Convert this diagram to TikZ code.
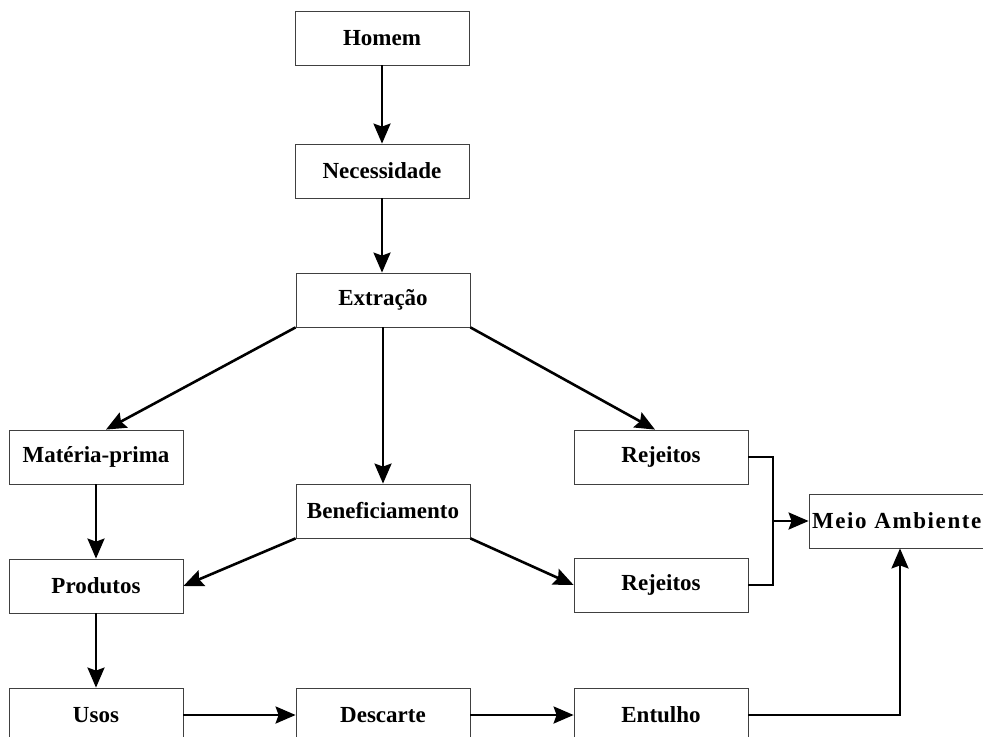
\documentclass[tikz,border=0pt]{standalone}
\usepackage{fontspec}
\setmainfont{Liberation Serif}
\usetikzlibrary{positioning,arrows.meta}

\begin{document}
\begin{tikzpicture}[x=0.5pt,y=-0.5pt,
	bstyle/.style={rectangle, draw=black!75, thin, fill=white,
	minimum width=87pt, minimum height=27pt, inner sep=0pt,
	font=\fontsize{11.5}{13}\selectfont\bfseries},
	astyle/.style={-{Stealth[length=10pt,width=8.5pt,inset=1.5pt]}, line width=1.3pt},
	lstyle/.style={line width=1.3pt}
	]
	\useasboundingbox (0,0) rectangle (983,737);
	\node[bstyle] (1) at (382,38) {Homem};
	\node[bstyle] (2) at (382,171) {Necessidade};
	\node[bstyle] (3) at (383,300) {Extração};
	\node[bstyle] (4) at (96,457) {Matéria-prima};
	\node[bstyle] (5) at (383,511) {Beneficiamento};
	\node[bstyle] (6) at (661,457) {Rejeitos};
	\node[bstyle] (7) at (96,586) {Produtos};
	\node[bstyle] (8) at (661,585) {Rejeitos};
	\node[bstyle, text width=84pt, align=left, inner xsep=1.5pt] (9) at (896,521)
		{\addfontfeature{LetterSpace=7}Meio Ambiente};
	\node[bstyle] (10) at (96,715) {Usos};
	\node[bstyle] (11) at (383,715) {Descarte};
	\node[bstyle] (12) at (661,715) {Entulho};
	\coordinate (j) at (773,521);
	
	\draw[astyle] (1.south) to (2.north);
	\draw[astyle] (2.south) to (2.south |- 3.north);
	\draw[astyle] (3.south west) to ([xshift=5pt]4.north);
	\draw[astyle] (3.south) to (5.north);
	\draw[astyle] (3.south east) to ([xshift=-3pt]6.north);
	\draw[astyle] (4.south) to (7.north);
	\draw[astyle] (5.south west) to (7.east);
	\draw[astyle] (5.south east) to (8.west);
	\draw[astyle] (7.south) to (10.north);
	\draw[astyle] (10.east) to (11.west);
	\draw[astyle] (11.east) to (12.west);
	\draw[lstyle] (6.east) -| (j) |- (8.east);
	\draw[astyle] (j) to (9.west);
	\draw[astyle] (12.east) -| ([xshift=2pt]9.south);
\end{tikzpicture}
\end{document}
